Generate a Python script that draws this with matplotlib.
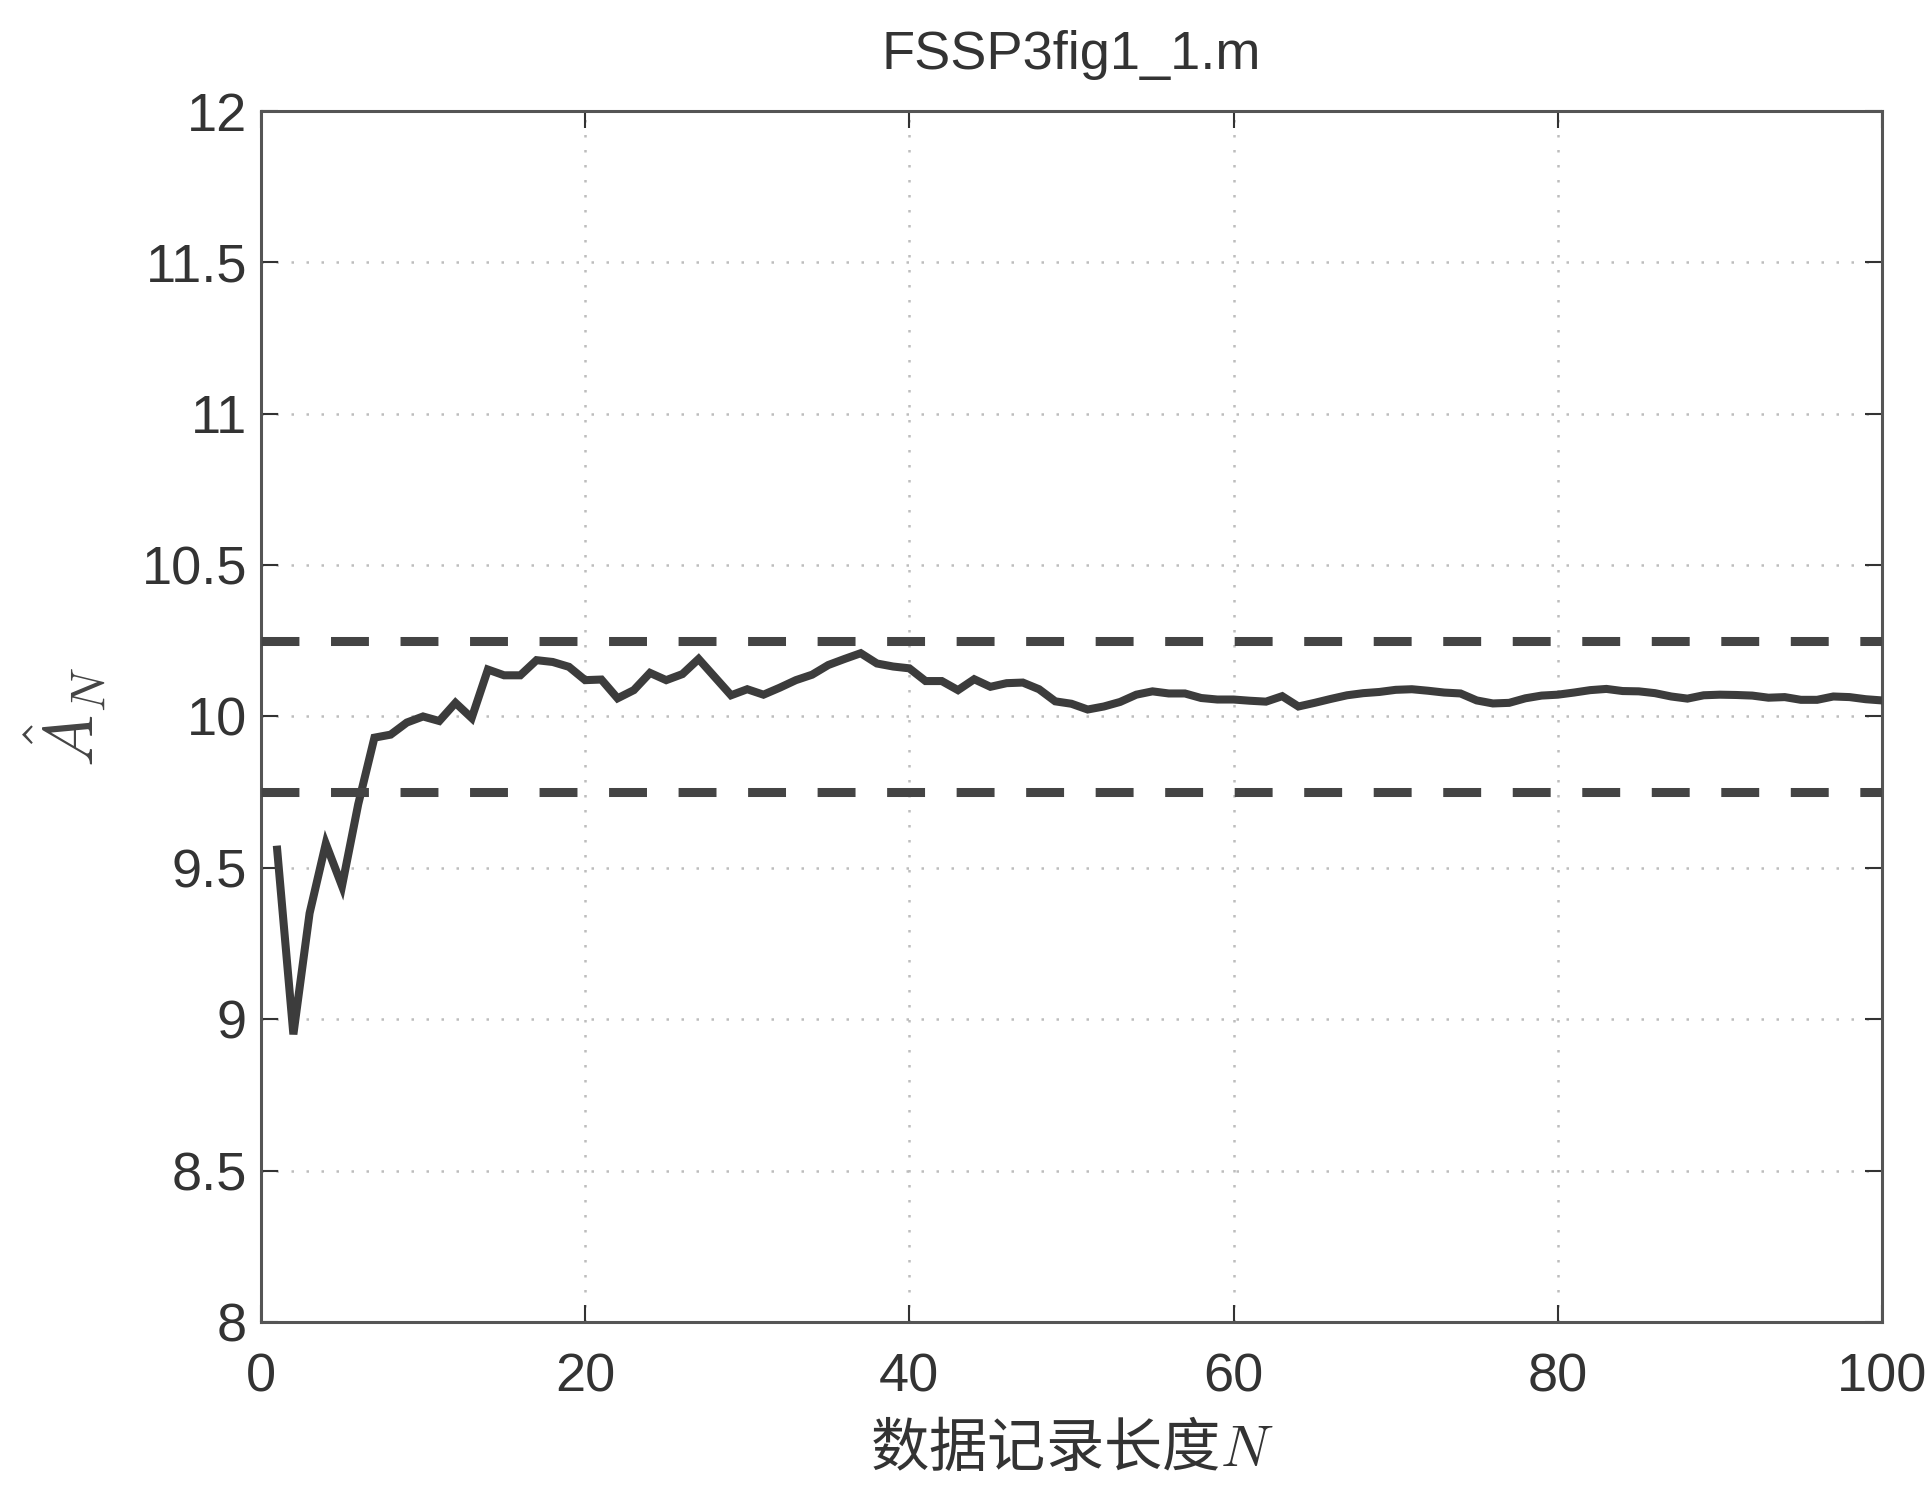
import matplotlib
matplotlib.use("Agg")
import matplotlib.pyplot as plt

# ---- data ----
N_values = list(range(1, 101))
A_hat = [9.56, 8.95, 9.35, 9.58, 9.44, 9.71, 9.93, 9.94, 9.98, 10.00,
         9.985, 10.045, 9.995, 10.155, 10.136, 10.136, 10.186, 10.18, 10.164, 10.12,
         10.122, 10.06, 10.087, 10.144, 10.12, 10.14, 10.19, 10.13, 10.07, 10.09,
         10.072, 10.095, 10.12, 10.138, 10.17, 10.19, 10.209, 10.175, 10.165, 10.159,
         10.117, 10.117, 10.087, 10.123, 10.098, 10.11, 10.112, 10.09, 10.05, 10.042,
         10.023, 10.033, 10.048, 10.072, 10.083, 10.076, 10.076, 10.061, 10.056, 10.056,
         10.052, 10.049, 10.067, 10.033, 10.045, 10.058, 10.07, 10.077, 10.081, 10.088,
         10.09, 10.085, 10.079, 10.076, 10.053, 10.043, 10.045, 10.06, 10.069, 10.072,
         10.079, 10.087, 10.091, 10.084, 10.083, 10.077, 10.066, 10.059, 10.07, 10.072,
         10.071, 10.069, 10.062, 10.064, 10.055, 10.055, 10.066, 10.064, 10.057, 10.053]
bounds = [10.25, 9.75]
x_ticks = [0, 20, 40, 60, 80, 100]
y_ticks = [8, 8.5, 9, 9.5, 10, 10.5, 11, 11.5, 12]
y_ticklabels = ["8", "8.5", "9", "9.5", "10", "10.5", "11", "11.5", "12"]
title_text = "FSSP3fig1_1.m"
xlabel_text = "数据记录长度$N$"
ylabel_text = r"$\hat{A}_N$"

plt.rcParams['font.family'] = ['Liberation Sans', 'Noto Sans CJK SC', 'DejaVu Sans']
plt.rcParams['mathtext.fontset'] = 'cm'

fig = plt.figure(figsize=(19.33, 14.86), dpi=100)
ax = fig.add_axes([0.135, 0.1104, 0.8386, 0.8149])

line_col = '#3c3c3c'
ax.plot(N_values, A_hat, color=line_col, lw=5.8, solid_joinstyle='miter', zorder=3)
for b in bounds:
    ax.axhline(b, color='#444444', lw=6.5, linestyle=(0, (4.2, 3.5)),
               dash_capstyle='butt', zorder=3)

ax.set_xlim(0, 100)
ax.set_ylim(8, 12)
ax.set_xticks(x_ticks)
ax.set_yticks(y_ticks)
ax.set_yticklabels(y_ticklabels)
ax.grid(True, linestyle=(0, (1, 5)), color='#bdbdbd', lw=1.8)
ax.tick_params(direction='in', length=12, width=1.5, top=True, right=True,
               labelsize=39, colors='#333333')
ax.tick_params(axis='x', pad=22)
ax.tick_params(axis='y', pad=10)
for s in ax.spines.values():
    s.set_linewidth(2.2)
    s.set_color('#555555')

ax.set_title(title_text, fontsize=39, pad=30, color='#333333')
ax.set_xlabel(xlabel_text, fontsize=42, labelpad=12, color='#333333',
              family=['Noto Sans CJK SC', 'DejaVu Sans'])
ax.set_ylabel(ylabel_text, fontsize=50, labelpad=24, color='#444444')

fig.savefig("out.png", dpi=100)
